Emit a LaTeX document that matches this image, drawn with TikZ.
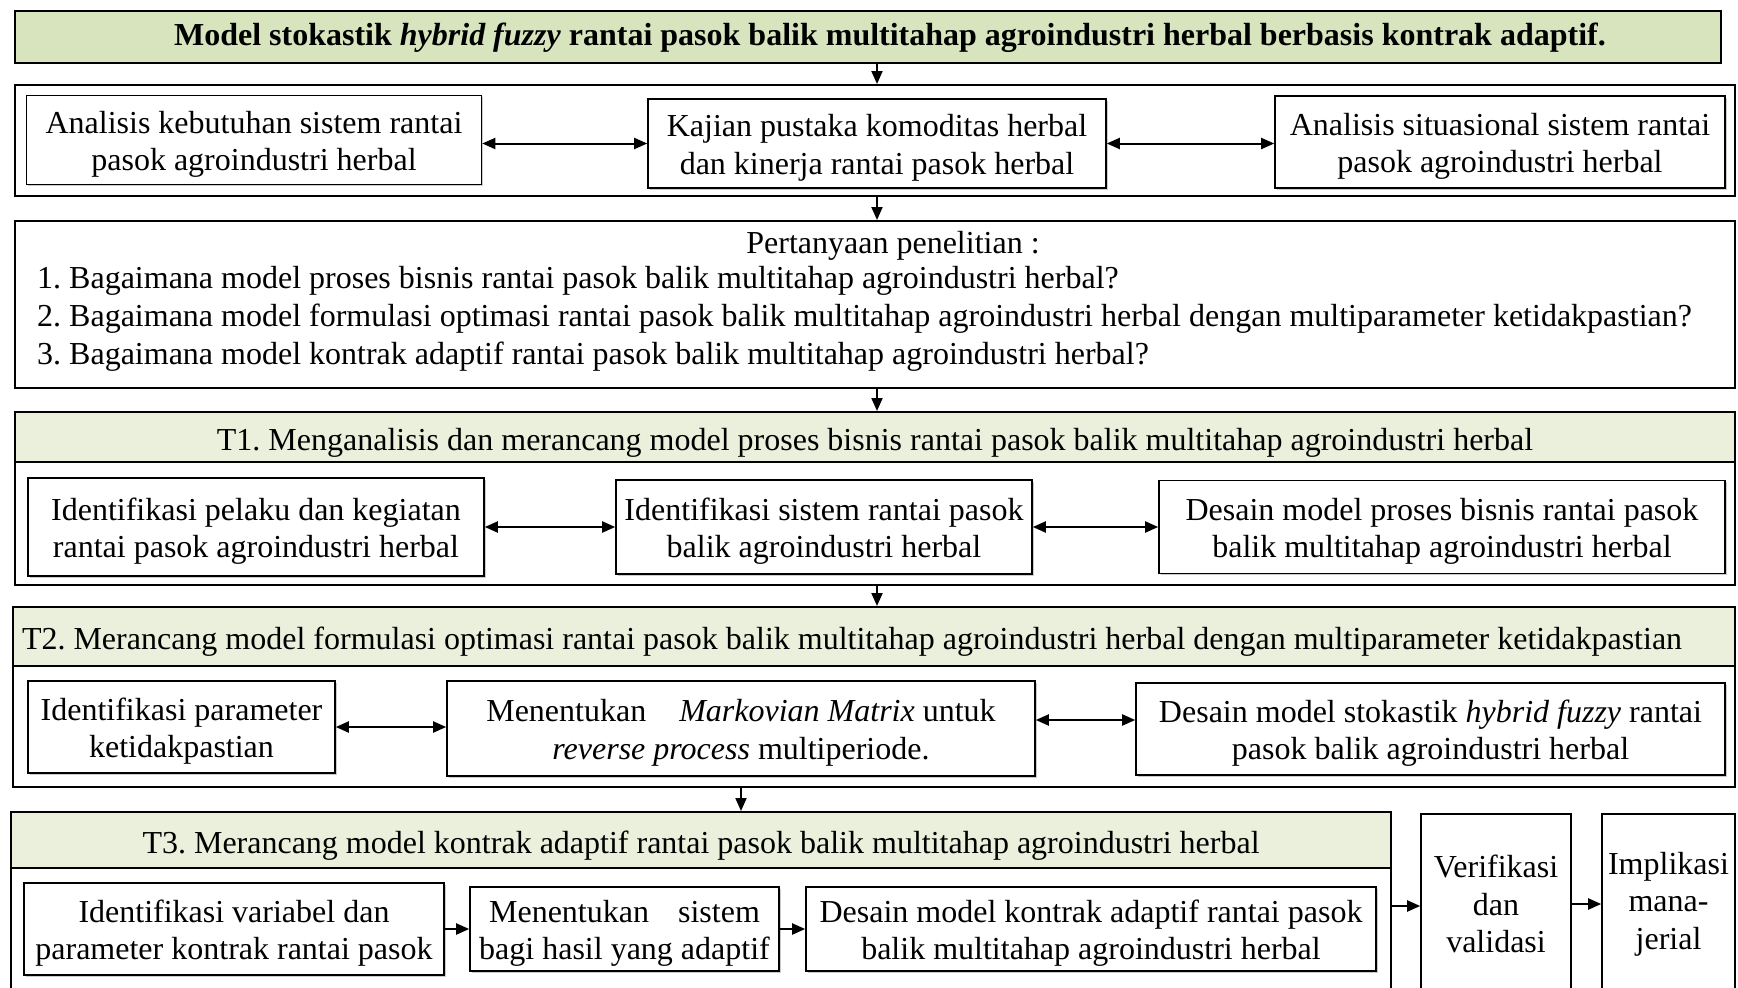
\documentclass[tikz,border=0pt]{standalone}
\usepackage{fontspec}
\setmainfont{Liberation Serif}
\usetikzlibrary{arrows.meta,shadows}
\definecolor{titlegreen}{HTML}{D7E4BD}
\definecolor{headgreen}{HTML}{EAF0DC}
\newlength\bagiw
\newcommand\lift{\rule{0pt}{31pt}}
\frenchspacing
\begin{document}
\settowidth{\bagiw}{\fontsize{32}{37.7}\selectfont bagi hasil yang adaptif}
\begin{tikzpicture}[x=1pt,y=-1pt,
  every node/.style={font=\fontsize{32}{37.7}\selectfont, inner sep=0pt},
  frame/.style={draw, line width=2pt},
  headband/.style={draw, line width=2pt, fill=headgreen,
    execute at begin node={\rule{0pt}{33pt}}},
  stepbox/.style={draw, line width=1.6pt, fill=white, align=center,
    drop shadow={shadow xshift=1.5pt, shadow yshift=-1.5pt, fill=black!40, opacity=0.5}},
  tip/.style={-{Triangle[length=13pt,width=11pt]}},
  arr/.style={line width=2pt, tip},
  biarr/.style={line width=2pt, {Triangle[length=13pt,width=11pt]}-{Triangle[length=13pt,width=11pt]}},
]
\clip (0,0) rectangle (1738,988);
\fill[white] (0,0) rectangle (1738,988);

% title
\node[draw, line width=2pt, fill=titlegreen, minimum width=1706, minimum height=52,
  execute at begin node={\rule{0pt}{24pt}}]
  (title) at (868,37) {\hspace*{44pt}\textbf{Model stokastik \textit{hybrid fuzzy} rantai pasok balik multitahap agroindustri herbal berbasis kontrak adaptif.}};

% preliminary studies
\node[frame, minimum width=1720, minimum height=111] (pre) at (875,140.5) {};
\node[stepbox, minimum width=455, minimum height=89] (preA) at (254,140) {\lift Analisis kebutuhan sistem rantai\\pasok agroindustri herbal};
\node[stepbox, minimum width=458, minimum height=89] (preB) at (877,143.5) {\lift Kajian pustaka komoditas herbal\\dan kinerja rantai pasok herbal};
\node[stepbox, minimum width=450, minimum height=92] (preC) at (1500,142) {\lift Analisis situasional sistem rantai\\pasok agroindustri herbal};
\draw[biarr] (preB.west) -- (preB.west -| preA.east);
\draw[biarr] (preB.east) -- (preB.east -| preC.west);

% research questions
\node[frame, minimum width=1720, minimum height=167] (rq) at (875,304.5) {};
\node (rqhead) at (893,246) {Pertanyaan penelitian :};
\node[anchor=west, align=left] (rqlist) at (37,319) {1. Bagaimana model proses bisnis rantai pasok balik multitahap agroindustri herbal?\\
2. Bagaimana model formulasi optimasi rantai pasok balik multitahap agroindustri herbal dengan multiparameter ketidakpastian?\\
3. Bagaimana model kontrak adaptif rantai pasok balik multitahap agroindustri herbal?};

% T1
\node[frame, minimum width=1720, minimum height=173] (tone) at (875,498.5) {};
\node[headband, minimum width=1720, minimum height=50] (toneh) at (875,437) {T1. Menganalisis dan merancang model proses bisnis rantai pasok balik multitahap agroindustri herbal};
\node[stepbox, minimum width=456, minimum height=98] (toneA) at (256,527) {\lift Identifikasi pelaku dan kegiatan\\rantai pasok agroindustri herbal};
\node[stepbox, minimum width=416, minimum height=94] (toneB) at (824,527) {\lift Identifikasi sistem rantai pasok\\balik agroindustri herbal};
\node[stepbox, minimum width=566, minimum height=93] (toneC) at (1442,527) {\lift Desain model proses bisnis rantai pasok\\balik multitahap agroindustri herbal};
\draw[biarr] (toneB.west) -- (toneB.west -| toneA.east);
\draw[biarr] (toneB.east) -- (toneB.east -| toneC.west);

% T2
\node[frame, minimum width=1722, minimum height=180] (ttwo) at (874,697) {};
\node[headband, minimum width=1722, minimum height=59] (ttwoh) at (874,636.5) {\makebox[1704pt][l]{T2. Merancang model formulasi optimasi rantai pasok balik multitahap agroindustri herbal dengan multiparameter ketidakpastian}};
\node[stepbox, minimum width=307, minimum height=92] (ttwoA) at (181.5,727) {\lift Identifikasi parameter\\ketidakpastian};
\node[stepbox, minimum width=588, minimum height=95] (ttwoB) at (741,728.5) {\lift Menentukan\hspace{25pt} \textit{Markovian Matrix} untuk\\\textit{reverse process} multiperiode.};
\node[stepbox, minimum width=589, minimum height=92] (ttwoC) at (1430.5,729) {\lift Desain model stokastik \textit{hybrid fuzzy} rantai\\pasok balik agroindustri herbal};
\draw[biarr] (ttwoA.east) -- (ttwoA.east -| ttwoB.west);
\draw[biarr] ([yshift=8.5pt]ttwoB.east) -- ([yshift=8.5pt]ttwoB.east -| ttwoC.west);

% T3
\node[frame, minimum width=1380, minimum height=188] (tthree) at (701,906) {};
\node[headband, minimum width=1380, minimum height=56] (tthreeh) at (701,840) {T3. Merancang model kontrak adaptif rantai pasok balik multitahap agroindustri herbal};
\node[stepbox, minimum width=420, minimum height=92] (tthreeA) at (234,929) {\lift Identifikasi variabel dan\\parameter kontrak rantai pasok};
\node[stepbox, minimum width=309, minimum height=84] (tthreeB) at (624.5,929) {\lift\makebox[0.932\bagiw][s]{Menentukan\hfill sistem}\\bagi hasil yang adaptif};
\node[stepbox, minimum width=570, minimum height=84] (tthreeC) at (1091,929) {\lift Desain model kontrak adaptif rantai pasok\\balik multitahap agroindustri herbal};
\draw[arr] (tthreeA.east) -- (tthreeA.east -| tthreeB.west);
\draw[arr] (tthreeB.east) -- (tthreeB.east -| tthreeC.west);

% final steps
\node[frame, line width=1.6pt, minimum width=150, minimum height=180, align=center] (verif) at (1496,904) {Verifikasi\\dan\\validasi};
\node[frame, line width=1.6pt, minimum width=133, minimum height=180, align=center] (impl) at (1668.5,904) {Implikasi\\mana-\\jerial};
\draw[arr] (tthree.east) -- (tthree.east -| verif.west);
\draw[arr] (verif.east) -- (impl.west);

% flow between stages
\draw[arr] (title.south -| preB) -- (pre.north -| preB);
\draw[arr] (pre.south -| preB) -- (rq.north -| preB);
\draw[arr] (rq.south -| preB) -- (tone.north -| preB);
\draw[arr] (tone.south -| preB) -- (ttwo.north -| preB);
\draw[arr] (ttwo.south -| ttwoB) -- (tthree.north -| ttwoB);
\end{tikzpicture}
\end{document}
